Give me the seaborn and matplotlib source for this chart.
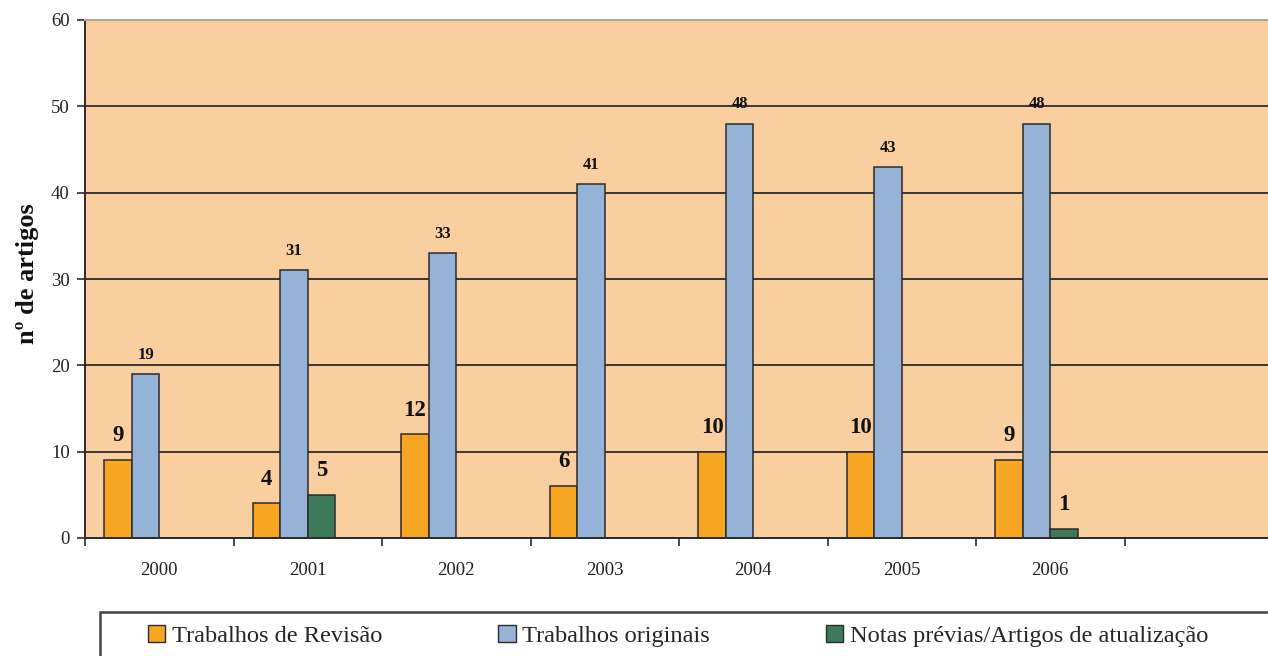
import pandas as pd
import numpy as np
import matplotlib
matplotlib.use('Agg')
import matplotlib.pyplot as plt
from matplotlib.patches import Patch, Rectangle
import seaborn as sns

# Data
anos = ['2000', '2001', '2002', '2003', '2004', '2005', '2006']
revisao = [9, 4, 12, 6, 10, 10, 9]
originais = [19, 31, 33, 41, 48, 43, 48]
notas_anos = ['2001', '2006']
notas = [5, 1]
series = ['Trabalhos de Revisão', 'Trabalhos originais',
          'Notas prévias/Artigos de atualização']

# long table for seaborn
df = pd.concat([
    pd.DataFrame({'ano': anos, 'tipo': series[0], 'n': revisao}),
    pd.DataFrame({'ano': anos, 'tipo': series[1], 'n': originais}),
    pd.DataFrame({'ano': notas_anos, 'tipo': series[2], 'n': notas}),
], ignore_index=True)

cores = {series[0]: '#F6A623', series[1]: '#95B3D7',
         series[2]: '#3E7A5A', 'vazio': '#FFFFFF'}
fundo = '#F9CF9F'
escuro = '#2B2B2B'

sns.set_theme(style='white')
plt.rcParams['font.family'] = ['Liberation Serif', 'DejaVu Serif']

fig = plt.figure(figsize=(12.68, 6.56), dpi=100)
ax = fig.add_axes([85/1268, 1-538/656, 1183/1268, 518/656])
ax.set_facecolor(fundo)

sns.barplot(data=df, x='ano', y='n', hue='tipo',
            order=anos, hue_order=series + ['vazio'],
            palette=cores, width=0.74, gap=0, dodge=True,
            edgecolor=escuro, linewidth=1.1, saturation=1,
            legend=False, errorbar=None, ax=ax)

ax.set_xlim(-0.5, -0.5 + 1183/148.5)
ax.set_ylim(0, 60)
ax.set_yticks(np.arange(0, 61, 10))
ax.set_axisbelow(True)
ax.yaxis.grid(True, color=escuro, linewidth=1.3)
ax.xaxis.grid(False)

# tick marks between the categories, labels at the centre
ax.set_xticks(np.arange(-0.5, 7.5, 1), minor=True)
ax.tick_params(axis='x', which='major', length=0, pad=17)
ax.tick_params(axis='x', which='minor', length=6, width=1.2,
               color=escuro, direction='out', bottom=True)
ax.tick_params(axis='y', length=6, width=1.2, color=escuro,
               direction='out', left=True, pad=5)
for lab in ax.get_xticklabels() + ax.get_yticklabels():
    lab.set_fontsize(13.5)
    lab.set_color('#222222')

for s in ['left', 'bottom']:
    ax.spines[s].set_color(escuro)
    ax.spines[s].set_linewidth(1.4)
ax.spines['top'].set_color('#B5A58F')
ax.spines['top'].set_linewidth(1.5)
ax.spines['right'].set_visible(False)

ax.set_xlabel('')
ax.set_ylabel('nº de artigos', fontsize=19, fontweight='bold',
              color='#111111')
ax.yaxis.set_label_coords(-46/1183, 0.51)

# value labels
for cont in ax.containers:
    alturas = cont.datavalues
    if len(alturas) == 0:
        continue
    cor = cont.patches[0].get_facecolor()
    azul = np.allclose(cor[:3], matplotlib.colors.to_rgb(cores[series[1]]),
                       atol=0.02)
    if azul:
        ax.bar_label(cont, labels=[f'{h:.0f}' for h in alturas],
                     padding=8, fontsize=12, fontweight='bold',
                     color='#111111')
    else:
        ax.bar_label(cont, labels=[f'{h:.0f}' for h in alturas],
                     padding=10, fontsize=16.5, fontweight='bold',
                     color='#111111')

# legend box at the bottom
fig.patches.append(Rectangle((100/1268, -0.05), 1.2, 0.05 + 1-612/656,
                             transform=fig.transFigure, facecolor='white',
                             edgecolor='#444444', linewidth=1.8))
handles = [Patch(facecolor=cores[s], edgecolor=escuro, linewidth=1.0)
           for s in series]
fig.legend(handles, series, ncol=3, loc='center left',
           bbox_to_anchor=(148/1268, 1-636/656), frameon=False,
           fontsize=17.6, handlelength=0.7, handleheight=0.7,
           handletextpad=0.28, columnspacing=4.75, borderaxespad=0,
           borderpad=0)

fig.savefig('out.png', dpi=100)
